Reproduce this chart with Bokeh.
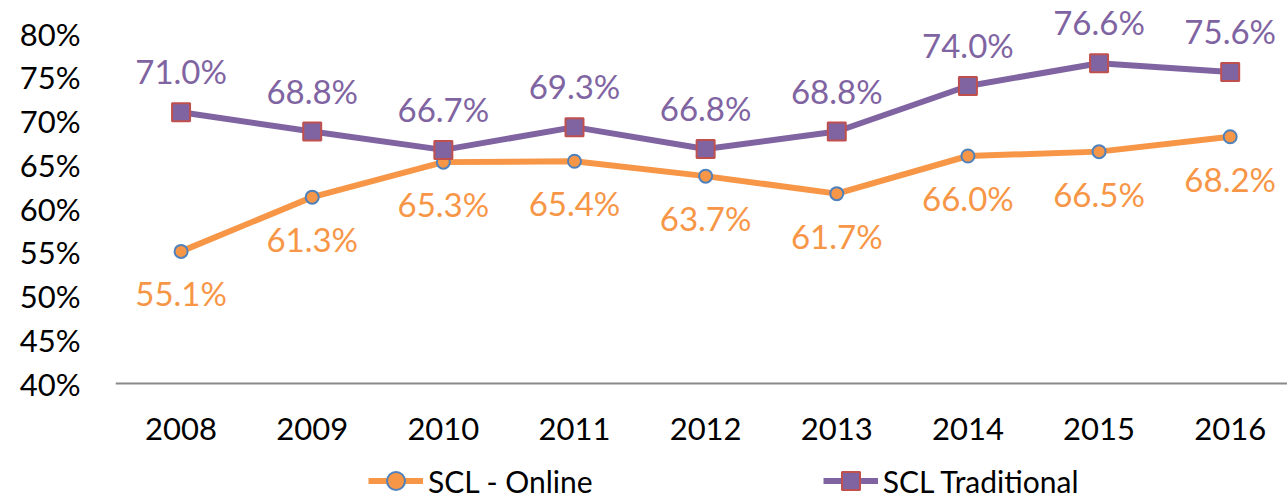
from bokeh.plotting import figure
from bokeh.models import Range1d, FixedTicker, Legend, LegendItem, ColumnDataSource
from bokeh.core.properties import value
from bokeh.embed import file_html
from bokeh.resources import INLINE

years = ["2008", "2009", "2010", "2011", "2012", "2013", "2014", "2015", "2016"]
online = [55.1, 61.3, 65.3, 65.4, 63.7, 61.7, 66.0, 66.5, 68.2]
traditional = [71.0, 68.8, 66.7, 69.3, 66.8, 68.8, 74.0, 76.6, 75.6]
y_ticks = [40, 45, 50, 55, 60, 65, 70, 75, 80]

FONT = "Lato"
ORANGE = "#F79646"
PURPLE = "#8064A2"

x = list(range(len(years)))
src_on = ColumnDataSource(dict(x=x, y=online, lab=[f"{v:.1f}%" for v in online]))
src_tr = ColumnDataSource(dict(x=x, y=traditional, lab=[f"{v:.1f}%" for v in traditional]))

PX = 8.75  # pixels per percentage point
p = figure(frame_width=1172, frame_height=498, output_backend="svg", toolbar_location=None,
           x_range=Range1d(-0.5, 8.437), y_range=Range1d(40 - 115 / PX, 80 + 33 / PX),
           min_border_left=115, min_border_right=0, min_border_top=0, min_border_bottom=0)
p.outline_line_color = None
p.xgrid.visible = False
p.ygrid.visible = False

l1 = p.line("x", "y", source=src_on, line_color=ORANGE, line_width=6)
m1 = p.scatter("x", "y", source=src_on, marker="circle", size=13, fill_color=ORANGE,
               line_color="#4F81BD", line_width=2)
l2 = p.line("x", "y", source=src_tr, line_color=PURPLE, line_width=6)
m2 = p.scatter("x", "y", source=src_tr, marker="square", size=18, fill_color=PURPLE,
               line_color="#C0504D", line_width=2)

p.text("x", "y", text="lab", source=src_on, text_color=ORANGE, text_font=value(FONT),
       text_font_size="33px", text_align="center", text_baseline="middle", y_offset=42)
p.text("x", "y", text="lab", source=src_tr, text_color=PURPLE, text_font=value(FONT),
       text_font_size="33px", text_align="center", text_baseline="middle", y_offset=-41)

p.yaxis.ticker = FixedTicker(ticks=y_ticks)
p.yaxis.major_label_overrides = {t: f"{t}%" for t in y_ticks}
p.yaxis.axis_line_color = None
p.yaxis.major_tick_line_color = None
p.yaxis.minor_tick_line_color = None
p.yaxis.major_label_standoff = 29
p.yaxis.major_label_text_font = FONT
p.yaxis.major_label_text_font_size = "31px"
p.yaxis.major_label_text_color = "black"

p.xaxis.fixed_location = 40
p.xaxis.ticker = FixedTicker(ticks=x)
p.xaxis.major_label_overrides = {i: y for i, y in enumerate(years)}
p.xaxis.axis_line_color = "#898989"
p.xaxis.axis_line_width = 2
p.xaxis.major_tick_line_color = None
p.xaxis.minor_tick_line_color = None
p.xaxis.major_label_standoff = 28
p.xaxis.major_label_text_font = FONT
p.xaxis.major_label_text_font_size = "31px"
p.xaxis.major_label_text_color = "black"

legend = Legend(items=[LegendItem(label="SCL - Online", renderers=[l1, m1]),
                       LegendItem(label="SCL Traditional", renderers=[l2, m2])],
                orientation="horizontal", location=(253, -5))
legend.glyph_width = 55
legend.glyph_height = 45
legend.label_standoff = 5
legend.spacing = 230
legend.padding = 0
legend.margin = 0
legend.border_line_color = None
legend.background_fill_alpha = 0
legend.label_text_font = FONT
legend.label_text_font_size = "30px"
legend.label_text_color = "black"
p.add_layout(legend)

open("out.html", "w").write(file_html(p, INLINE))
